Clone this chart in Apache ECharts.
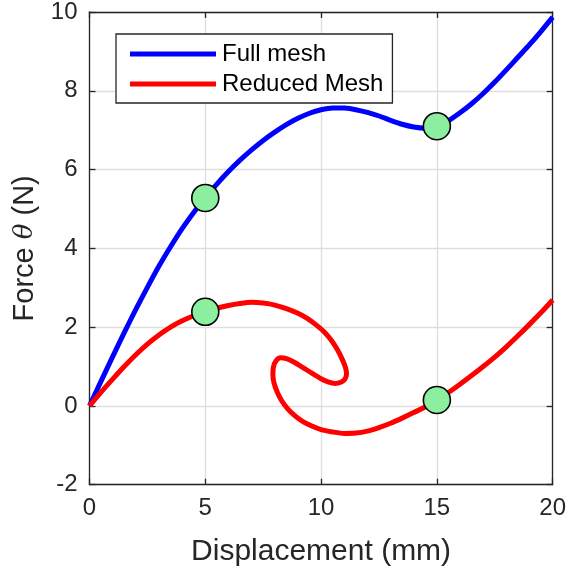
<!DOCTYPE html>
<html>
<head>
<meta charset="utf-8">
<script src="https://cdn.jsdelivr.net/npm/echarts@6/dist/echarts.min.js"></script>
<style>
  html, body { margin: 0; padding: 0; background: #fff; }
  #chart { width: 569px; height: 573px; }
</style>
</head>
<body>
<div id="chart"></div>
<script>
// Force–displacement response: full model vs reduced model
const fullMeshX = [0, 0.5, 1, 1.5, 2, 2.5, 3, 3.5, 4, 4.5, 5, 5.5, 6, 6.5, 7, 7.5, 8, 8.5, 9, 9.5, 10,
  10.5, 11, 11.5, 12, 12.5, 13, 13.5, 14, 14.5, 15, 15.5, 16, 16.5, 17, 17.5, 18, 18.5, 19, 19.5, 20];
const fullMeshY = [0, 0.63, 1.25, 1.86, 2.45, 3.01, 3.55, 4.04, 4.5, 4.91, 5.28, 5.63, 5.95, 6.24, 6.5, 6.74, 6.95, 7.14, 7.3, 7.43, 7.52,
  7.565, 7.56, 7.52, 7.45, 7.36, 7.25, 7.15, 7.08, 7.05, 7.1, 7.24, 7.44, 7.67, 7.93, 8.22, 8.53, 8.85, 9.17, 9.51, 9.87];

const reducedX = [0, 0.5, 1, 1.5, 2, 2.5, 3, 3.5, 4, 4.5, 5, 5.5, 6, 6.5, 7, 7.5, 8,
  8.5, 9, 9.4, 9.8, 10.15, 10.45, 10.7, 10.9, 11.05, 11.1, 11.03, 10.85, 10.6, 10.3, 10.0, 9.6, 9.2, 8.8, 8.5, 8.25, 8.05, 7.94, 7.92, 7.97, 8.1, 8.3, 8.55, 8.85, 9.2, 9.6, 10.0, 10.5,
  11, 11.5, 12, 12.5, 13, 13.5, 14, 14.5, 15, 15.5, 16, 16.5, 17, 17.5, 18, 18.5, 19, 19.5, 20];
const reducedY = [0, 0.35, 0.68, 1.0, 1.3, 1.57, 1.8, 2.0, 2.16, 2.29, 2.39, 2.48, 2.55, 2.6, 2.63, 2.61, 2.56,
  2.47, 2.35, 2.22, 2.05, 1.87, 1.66, 1.43, 1.2, 0.98, 0.82, 0.68, 0.6, 0.57, 0.61, 0.69, 0.83, 0.98, 1.12, 1.2, 1.22, 1.14, 0.98, 0.78, 0.58, 0.36, 0.13, -0.07, -0.24, -0.39, -0.51, -0.6, -0.66,
  -0.7, -0.69, -0.64, -0.55, -0.44, -0.31, -0.17, -0.02, 0.15, 0.34, 0.55, 0.77, 1.0, 1.24, 1.5, 1.78, 2.07, 2.37, 2.69];

// Sample points marked on each curve
const fullMarkX = [5, 15];
const fullMarkY = [5.28, 7.1];
const reducedMarkX = [5, 15];
const reducedMarkY = [2.39, 0.15];

const xTicks = { min: 0, max: 20, step: 5 };
const yTicks = { min: -2, max: 10, step: 2 };

const pairs = (xs, ys) => xs.map((x, i) => [x, ys[i]]);

const chart = echarts.init(document.getElementById('chart'), null, { renderer: 'canvas' });

const font = 'Liberation Sans, Arial, Helvetica, sans-serif';
const ink = '#262626';
const frame = { show: true, onZero: false, lineStyle: { color: ink, width: 1.3 } };
const ticks = { show: true, inside: true, length: 6, lineStyle: { color: ink, width: 1.3 } };
const grid = { show: true, lineStyle: { color: '#dfdfdf', width: 1.3 } };

chart.setOption({
  animation: false,
  backgroundColor: '#ffffff',
  textStyle: { fontFamily: font },
  grid: { left: 89.5, top: 9.7, width: 464, height: 475, containLabel: false },
  legend: {
    orient: 'vertical',
    left: 116,
    top: 34,
    padding: [8, 9, 7, 14],
    itemWidth: 86,
    itemHeight: 5,
    itemGap: 6,
    icon: 'rect',
    backgroundColor: '#ffffff',
    borderColor: ink,
    borderWidth: 1.3,
    borderRadius: 0,
    textStyle: { fontFamily: font, fontSize: 24, color: '#000', padding: [0, 0, 0, 1] },
    data: ['Full mesh', 'Reduced Mesh']
  },
  xAxis: [
    {
      type: 'value', min: xTicks.min, max: xTicks.max, interval: xTicks.step,
      position: 'bottom',
      name: 'Displacement (mm)', nameLocation: 'middle', nameGap: 52,
      nameTextStyle: { fontFamily: font, fontSize: 30, color: ink },
      axisLine: frame, axisTick: ticks,
      axisLabel: { fontFamily: font, fontSize: 24, color: ink, margin: 12 },
      splitLine: grid
    },
    {
      type: 'value', min: xTicks.min, max: xTicks.max, interval: xTicks.step,
      position: 'top',
      axisLine: frame, axisTick: ticks, axisLabel: { show: false }, splitLine: { show: false }
    }
  ],
  yAxis: [
    {
      type: 'value', min: yTicks.min, max: yTicks.max, interval: yTicks.step,
      position: 'left',
      name: 'Force {it|θ} (N)', nameLocation: 'middle', nameGap: 50,
      nameTextStyle: {
        fontFamily: font, fontSize: 29, color: ink,
        rich: { it: { fontFamily: 'DejaVu Serif, Liberation Serif, serif', fontStyle: 'italic', fontSize: 26, color: ink } }
      },
      axisLine: frame, axisTick: ticks,
      axisLabel: { fontFamily: font, fontSize: 24, color: ink, margin: 12 },
      splitLine: grid
    },
    {
      type: 'value', min: yTicks.min, max: yTicks.max, interval: yTicks.step,
      position: 'right',
      axisLine: frame, axisTick: ticks, axisLabel: { show: false }, splitLine: { show: false }
    }
  ],
  series: [
    {
      name: 'Full mesh', type: 'line', data: pairs(fullMeshX, fullMeshY),
      smooth: 0.25, symbol: 'none', z: 3,
      lineStyle: { color: '#0000ff', width: 5, join: 'round' }, itemStyle: { color: '#0000ff' }
    },
    {
      name: 'Reduced Mesh', type: 'line', data: pairs(reducedX, reducedY),
      smooth: 0.25, symbol: 'none', z: 3,
      lineStyle: { color: '#ff0000', width: 5, join: 'round' }, itemStyle: { color: '#ff0000' }
    },
    {
      name: 'marks', type: 'scatter', z: 5,
      data: pairs(fullMarkX, fullMarkY).concat(pairs(reducedMarkX, reducedMarkY)),
      symbol: 'circle', symbolSize: 27,
      itemStyle: { color: '#8cee9f', borderColor: '#000', borderWidth: 1.6, opacity: 1 }
    }
  ]
});
</script>
</body>
</html>
